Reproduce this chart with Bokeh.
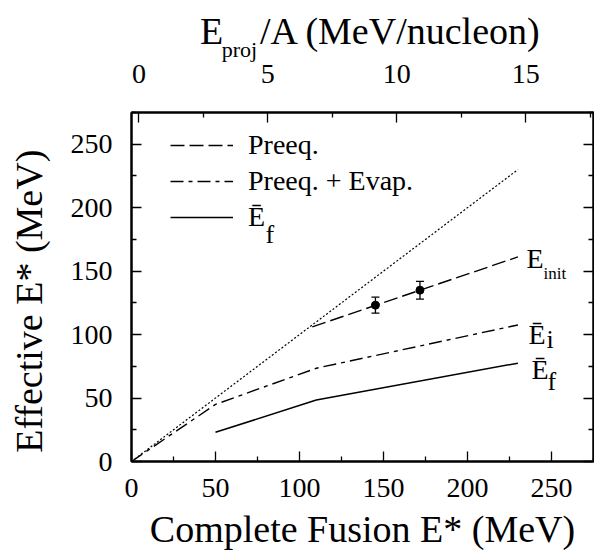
from bokeh.plotting import figure
from bokeh.layouts import column
from bokeh.models import (Range1d, LinearAxis, FixedTicker, Label, Legend, LegendItem,
                          Whisker, TeeHead, ColumnDataSource)
from bokeh.core.properties import value
from bokeh.embed import file_html
from bokeh.resources import INLINE

# ---- data ----
x_ticks = [0, 50, 100, 150, 200, 250]
x_minor = [25, 75, 125, 175, 225, 275]
y_ticks = [0, 50, 100, 150, 200, 250]
y_minor = [25, 75, 125, 175, 225, 275]
top_ticks = [0, 5, 10, 15]
top_minor = [2.5, 7.5, 12.5, 17.5]

diag_x = [0, 230]
diag_y = [0, 230]
preeq_x = [107.6, 230]
preeq_y = [106.1, 161.2]
evap_x = [0, 50, 110, 230]
evap_y = [0, 45, 73.5, 107.6]
ef_x = [50, 110, 230]
ef_y = [23, 48.4, 77.5]
exp_x = [145.2, 171.7]
exp_y = [123.2, 135.0]
exp_err = [6.3, 7.0]

FONT = "Liberation Serif"

x_range = Range1d(0, 275)
proj_range = Range1d(-0.287, 17.63)


def style(ax, size="28px"):
    ax.major_tick_in = 10
    ax.major_tick_out = 0
    ax.minor_tick_in = 5
    ax.minor_tick_out = 0
    ax.major_tick_line_width = 1.3
    ax.minor_tick_line_width = 1.3
    ax.axis_line_width = 2
    ax.major_label_text_font = FONT
    ax.major_label_text_font_size = size
    ax.major_label_text_color = "black"
    ax.axis_label_text_font = FONT
    ax.axis_label_text_font_size = "38px"
    ax.axis_label_text_font_style = "normal"
    ax.axis_label_text_color = "black"


# ---- top strip: top-axis title and tick labels ----
top = figure(width=594, height=100, x_range=x_range, y_range=Range1d(0, 62),
             title=None, output_backend="svg", toolbar_location=None,
             x_axis_type=None, y_axis_type=None,
             min_border_left=131, min_border_right=1, min_border_top=0, min_border_bottom=38)
top.grid.visible = False
top.outline_line_color = None
top.border_fill_color = "white"
top.extra_x_ranges = {"proj": proj_range}
tlab = LinearAxis(x_range_name="proj", ticker=FixedTicker(ticks=top_ticks, minor_ticks=top_minor))
style(tlab)
tlab.axis_line_color = None
tlab.major_tick_line_color = None
tlab.minor_tick_line_color = None
tlab.major_tick_in = 0
tlab.minor_tick_in = 0
tlab.major_label_standoff = 2
top.add_layout(tlab, "below")

top.text(x=[40.8], y=[31.5], text=["E"], text_font=value(FONT), text_font_size="38px",
         text_color="black", text_baseline="middle", text_align="left")
top.text(x=[53.7], y=[12.7], text=["proj"], text_font=value(FONT), text_font_size="22px",
         text_color="black", text_baseline="middle", text_align="left")
top.text(x=[76.5], y=[31.5], text=["/A (MeV/nucleon)"], text_font=value(FONT),
         text_font_size="38px", text_color="black", text_baseline="middle",
         text_align="left")

# ---- main plot ----
p = figure(width=594, height=452, x_range=x_range, y_range=Range1d(0, 275),
           title=None, output_backend="svg", toolbar_location=None,
           min_border_left=131, min_border_right=1, min_border_top=12, min_border_bottom=91)
p.grid.visible = False
p.outline_line_color = "black"
p.outline_line_width = 2
p.background_fill_color = "white"
p.border_fill_color = "white"

bx = p.xaxis[0]
bx.ticker = FixedTicker(ticks=x_ticks, minor_ticks=x_minor)
style(bx)
bx.major_label_standoff = 17
bx.axis_label = "Complete Fusion E* (MeV)"
bx.axis_label_standoff = 8

ly = p.yaxis[0]
ly.ticker = FixedTicker(ticks=y_ticks, minor_ticks=y_minor)
style(ly)
ly.major_label_standoff = 19
ly.axis_label = "Effective E* (MeV)\u00a0\u00a0\u00a0"
ly.axis_label_standoff = 18

p.extra_x_ranges = {"proj": proj_range}
tx = LinearAxis(x_range_name="proj", ticker=FixedTicker(ticks=top_ticks, minor_ticks=top_minor))
style(tx)
tx.major_label_text_color = None
tx.major_label_standoff = 0
p.add_layout(tx, "above")

ry = LinearAxis(ticker=FixedTicker(ticks=y_ticks, minor_ticks=y_minor))
style(ry)
ry.major_label_text_color = None
ry.major_label_standoff = 0
p.add_layout(ry, "right")

# ---- curves ----
p.line(diag_x, diag_y, line_color="black", line_width=1.2, line_dash="2 2")
r_pre = p.line(preeq_x, preeq_y, line_color="black", line_width=1.4, line_dash="14 5")
r_evap = p.line(evap_x, evap_y, line_color="black", line_width=1.4, line_dash="13 5 4 5")
r_ef = p.line(ef_x, ef_y, line_color="black", line_width=1.5)

src = ColumnDataSource(dict(x=exp_x,
                            lower=[v - e for v, e in zip(exp_y, exp_err)],
                            upper=[v + e for v, e in zip(exp_y, exp_err)]))
p.add_layout(Whisker(source=src, base="x", lower="lower", upper="upper",
                     line_color="black", line_width=1.3,
                     upper_head=TeeHead(size=8, line_width=1.3, line_color="black"),
                     lower_head=TeeHead(size=8, line_width=1.3, line_color="black")))
p.scatter(exp_x, exp_y, size=8, color="black")

# ---- legend ----
legend = Legend(items=[LegendItem(label="Preeq.", renderers=[r_pre]),
                       LegendItem(label="Preeq. + Evap.", renderers=[r_evap]),
                       LegendItem(label="\u0112", renderers=[r_ef])],
                location=(39, 228.5), glyph_width=63, glyph_height=32, label_height=32,
                label_standoff=15, spacing=4, padding=0, margin=0,
                border_line_color=None, background_fill_alpha=0,
                label_text_font=FONT, label_text_font_size="28px", label_text_color="black")
p.add_layout(legend)


def lab(x, y, text, size):
    p.add_layout(Label(x=x, y=y, text=text, text_font=FONT, text_font_size=size,
                       text_color="black", text_align="left", text_baseline="middle"))


# legend subscript
lab(79.8, 178.5, "f", "26px")

# curve labels
lab(235.1, 159.6, "E", "28px")
lab(245.2, 148.5, "init", "17px")
lab(236.3, 100.2, "\u0112", "28px")
lab(247.0, 96.5, "i", "26px")
lab(238.1, 72.7, "\u0112", "28px")
lab(247.6, 62.9, "f", "26px")

layout = column(top, p, spacing=0)
open("out.html", "w").write(file_html(layout, INLINE))
